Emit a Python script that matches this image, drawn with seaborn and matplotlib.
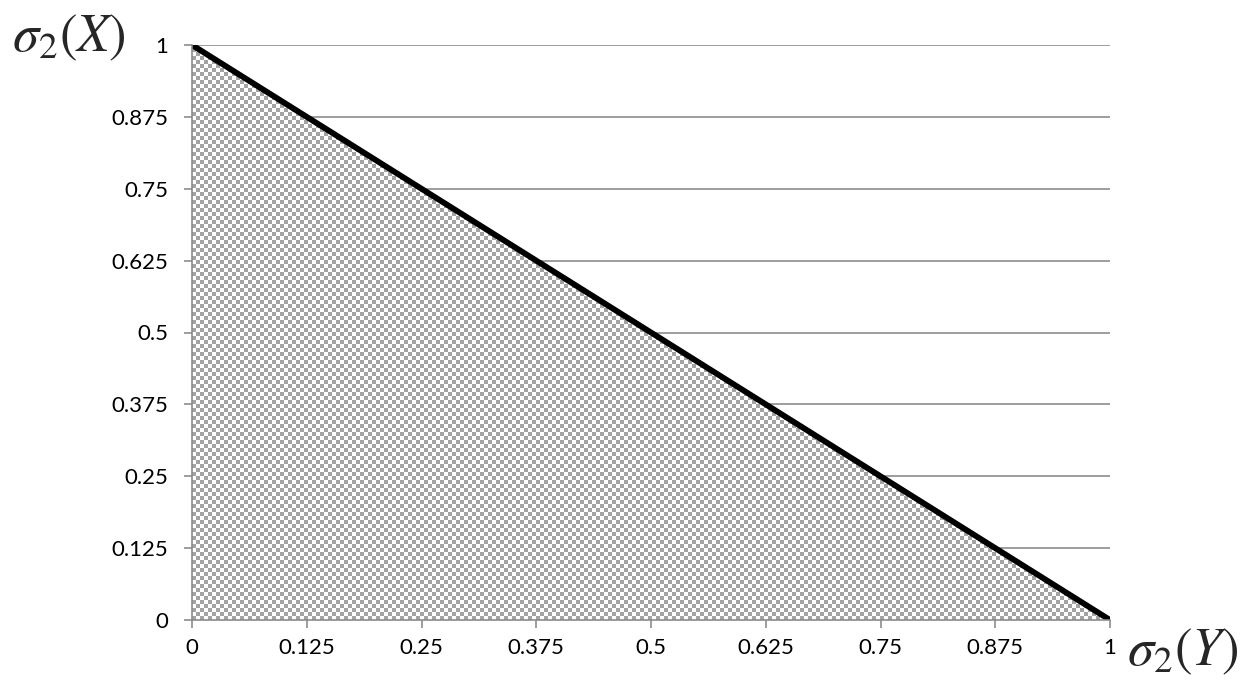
import numpy as np
import pandas as pd
import matplotlib
matplotlib.use("Agg")
import matplotlib.pyplot as plt
from matplotlib.colors import ListedColormap
import seaborn as sns

# Boundary line sigma2(Y) + sigma2(X) = 1
sigma_y = [0.0, 1.0]
sigma_x = [1.0, 0.0]

tick_values = [0, 0.125, 0.25, 0.375, 0.5, 0.625, 0.75, 0.875, 1]
tick_labels = ["0", "0.125", "0.25", "0.375", "0.5", "0.625", "0.75", "0.875", "1"]

sns.set_theme(style="white")
plt.rcParams["font.family"] = ["Lato", "DejaVu Sans"]
plt.rcParams["mathtext.fontset"] = "stix"

W, H = 1249, 687
ax_left, ax_top, ax_w, ax_h = 192, 45, 918, 575

fig = plt.figure(figsize=(W / 100, H / 100), dpi=100)
ax = fig.add_axes([ax_left / W, 1 - (ax_top + ax_h) / H, ax_w / W, ax_h / H])

grid_color = "#8c8c8c"
for v in tick_values[1:]:
    ax.axhline(v, color=grid_color, lw=1.2, zorder=1)

# Feasible region: checkerboard-filled triangle under the line (4 px squares)
poly = ax.fill_between(sigma_y, sigma_x, 0, facecolor="none", edgecolor="none")
py, px = np.mgrid[0:ax_h, 0:ax_w]
checker = (((px // 4) + (py // 4)) % 2).astype(float)
img = ax.imshow(checker, extent=[0, 1, 0, 1], origin="lower", aspect="auto",
                interpolation="nearest",
                cmap=ListedColormap(["#a3a3a3", "#ffffff"]), zorder=2)
img.set_clip_path(poly.get_paths()[0], transform=ax.transData)

df = pd.DataFrame({"y": sigma_y, "x": sigma_x})
sns.lineplot(data=df, x="y", y="x", color="black", lw=4.2, ax=ax, zorder=4,
             solid_capstyle="butt")

ax.set_xlim(0, 1)
ax.set_ylim(0, 1)
ax.set_xticks(tick_values)
ax.set_xticklabels(tick_labels)
ax.set_yticks(tick_values)
ax.set_yticklabels(tick_labels)
ax.set_xlabel("")
ax.set_ylabel("")

for side in ["top", "right"]:
    ax.spines[side].set_visible(False)
for side in ["left", "bottom"]:
    ax.spines[side].set_color(grid_color)
    ax.spines[side].set_linewidth(1.2)
    ax.spines[side].set_zorder(5)

ax.tick_params(axis="both", which="both", direction="out", length=6,
               width=1.2, color=grid_color, labelsize=16, labelcolor="black",
               bottom=True, left=True)
ax.tick_params(axis="x", pad=7)
ax.tick_params(axis="y", pad=11)

fig.text(12 / W, 1 - 38 / H, r"$\sigma_2(X)$", fontsize=38, va="center",
         ha="left")
fig.text(1127 / W, 1 - 652 / H, r"$\sigma_2(Y)$", fontsize=38,
         va="center", ha="left")

fig.savefig("out.png", dpi=100)
